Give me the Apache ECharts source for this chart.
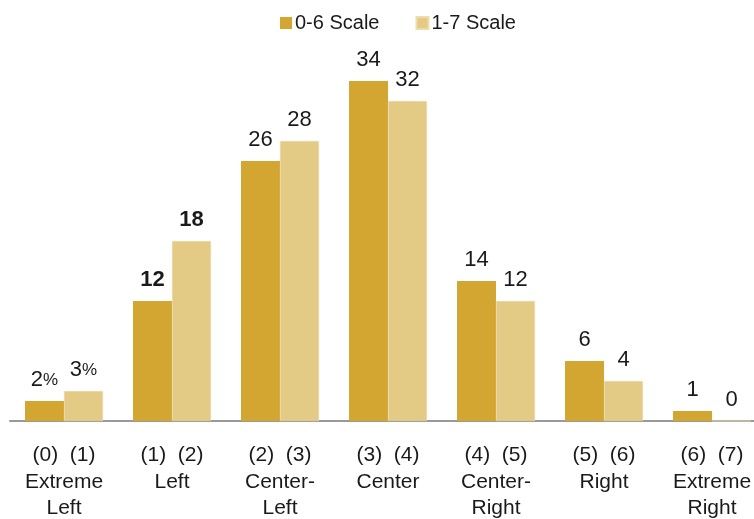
<!DOCTYPE html>
<html><head><meta charset="utf-8">
<script src="https://cdn.jsdelivr.net/npm/echarts@6/dist/echarts.min.js"></script>
<style>html,body{margin:0;padding:0;background:#fff}#c{width:754px;height:519px}</style>
</head><body><div id="c"></div>
<script>
const categories = ['(0)  (1)\nExtreme\nLeft','(1)  (2)\nLeft','(2)  (3)\nCenter-\nLeft','(3)  (4)\nCenter','(4)  (5)\nCenter-\nRight','(5)  (6)\nRight','(6)  (7)\nExtreme\nRight'];
const seriesNames = ['0-6 Scale','1-7 Scale'];
const scale06 = [2, 12, 26, 34, 14, 6, 1];
const scale17 = [3, 18, 28, 32, 12, 4, 0];
const colors = ['#D2A630','#E3CA85'];

function fmt(p){
  if (p.dataIndex === 0) return '{n|' + p.value + '}{p|%}';
  if (p.dataIndex === 1) return '{b|' + p.value + '}';
  return '{n|' + p.value + '}';
}
const rich = {
  n:{fontSize:22,color:'#1a1a1a',fontFamily:'Liberation Sans'},
  p:{fontSize:17,color:'#1a1a1a',fontFamily:'Liberation Sans'},
  b:{fontSize:22,color:'#1a1a1a',fontWeight:'bold',fontFamily:'Liberation Sans'}
};
const chart = echarts.init(document.getElementById('c'));
chart.setOption({
  animation:false,
  textStyle:{fontFamily:'Liberation Sans'},
  legend:{top:8,left:275,icon:'rect',itemWidth:12,itemHeight:12,itemGap:36,
    textStyle:{fontSize:20,color:'#1a1a1a',fontFamily:'Liberation Sans',padding:[0,0,0,-2]},
    data:seriesNames},
  grid:{left:10,top:21,width:756,height:400,containLabel:false,outerBoundsMode:'none'},
  xAxis:{type:'category',data:categories,
    axisLine:{lineStyle:{color:'#999',width:2}},axisTick:{show:false},
    axisLabel:{interval:0,margin:21,fontSize:21,lineHeight:26.5,color:'#1a1a1a',fontFamily:'Liberation Sans'}},
  yAxis:{type:'value',min:0,max:40,show:false,splitLine:{show:false}},
  series:[
    {name:seriesNames[0],type:'bar',data:scale06,barGap:'0%',barCategoryGap:'27.8%',
      itemStyle:{color:colors[0]},
      label:{show:true,position:'top',distance:10,formatter:fmt,rich:rich}},
    {name:seriesNames[1],type:'bar',data:scale17,
      itemStyle:{color:colors[1],borderColor:'#EEDDAA',borderWidth:0.5},
      label:{show:true,position:'top',distance:10,formatter:fmt,rich:rich}}
  ]
});
</script></body></html>
